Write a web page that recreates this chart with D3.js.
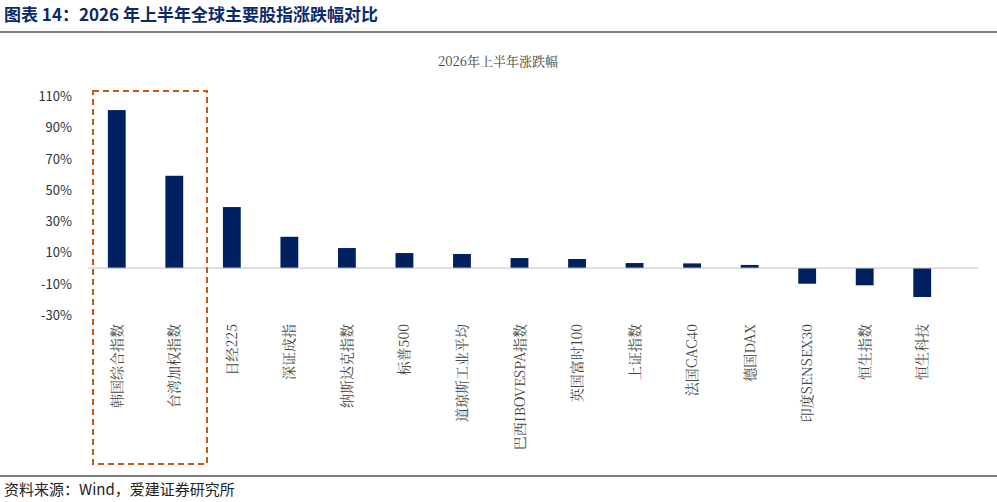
<!DOCTYPE html>
<html><head><meta charset="utf-8">
<script src="https://cdn.jsdelivr.net/npm/d3@7/dist/d3.min.js"></script>
<style>body{margin:0;background:#fff;font-family:"Noto Sans CJK SC","Noto Sans",sans-serif;}</style>
</head><body>
<svg id="svg1" width="997" height="502"></svg>
<script>
var categories = ["韩国综合指数","台湾加权指数","日经225","深证成指","纳斯达克指数","标普500","道琼斯工业平均","巴西IBOVESPA指数","英国富时100","上证指数","法国CAC40","德国DAX","印度SENSEX30","恒生指数","恒生科技"];
var values = [101, 59, 39, 20, 12.8, 9.6, 9, 6.4, 5.8, 3.2, 3, 2, -10, -11, -18.5];
var tickValues = [110, 90, 70, 50, 30, 10, -10, -30];

var svg = d3.select('svg');

svg.append('text').attr('x', 4).attr('y', 21)
   .attr('font-size', 17).attr('font-weight', 'bold').attr('fill', '#0b2a6b')
   .text('图表 14：2026 年上半年全球主要股指涨跌幅对比');
svg.append('line').attr('x1', 0).attr('x2', 997).attr('y1', 32).attr('y2', 32)
   .attr('stroke', '#000').attr('stroke-width', 1);
svg.append('line').attr('x1', 0).attr('x2', 997).attr('y1', 476).attr('y2', 476)
   .attr('stroke', '#000').attr('stroke-width', 1);
svg.append('text').attr('x', 4).attr('y', 495).attr('font-size', 15).attr('fill', '#222')
   .text('资料来源：Wind，爱建证券研究所');

svg.append('text').attr('x', 498).attr('y', 66).attr('text-anchor', 'middle')
   .attr('font-size', 13).attr('fill', '#444')
   .attr('font-family', '"Noto Serif CJK SC","Noto Sans CJK SC",serif')
   .text('2026年上半年涨跌幅');

var x = d3.scaleBand().domain(categories).range([88, 951]).paddingInner(0.69).paddingOuter(0.345);
var y = d3.scaleLinear().domain([-30, 110]).range([315, 96]);

svg.append('g').selectAll('text').data(tickValues).enter().append('text')
   .attr('x', 72).attr('y', function(d) { return y(d) + 5; })
   .attr('text-anchor', 'end').attr('font-size', 13).attr('fill', '#333')
   .text(function(d) { return d + '%'; });

svg.selectAll('rect.bar').data(values).enter().append('rect')
   .attr('class', 'bar')
   .attr('x', function(d, i) { return x(categories[i]); })
   .attr('width', x.bandwidth())
   .attr('y', function(d) { return y(Math.max(0, d)); })
   .attr('height', function(d) { return Math.abs(y(d) - y(0)); })
   .attr('fill', '#002060');

svg.append('line').attr('x1', 88).attr('x2', 978).attr('y1', y(0)).attr('y2', y(0))
   .attr('stroke', '#bfbfbf');

svg.append('g').selectAll('text').data(categories).enter().append('text')
   .attr('transform', function(d) { return 'translate(' + (x(d) + x.bandwidth() / 2 + 5) + ',324) rotate(-90)'; })
   .attr('text-anchor', 'end').attr('font-size', 14).attr('fill', '#444')
   .attr('font-family', '"Noto Serif CJK SC","Noto Sans CJK SC",serif')
   .text(function(d) { return d; });

svg.append('rect').attr('x', 93).attr('y', 91).attr('width', 114).attr('height', 373)
   .attr('fill', 'none').attr('stroke', '#c55a11').attr('stroke-width', 2)
   .attr('stroke-dasharray', '6,4');
</script>
</body></html>
